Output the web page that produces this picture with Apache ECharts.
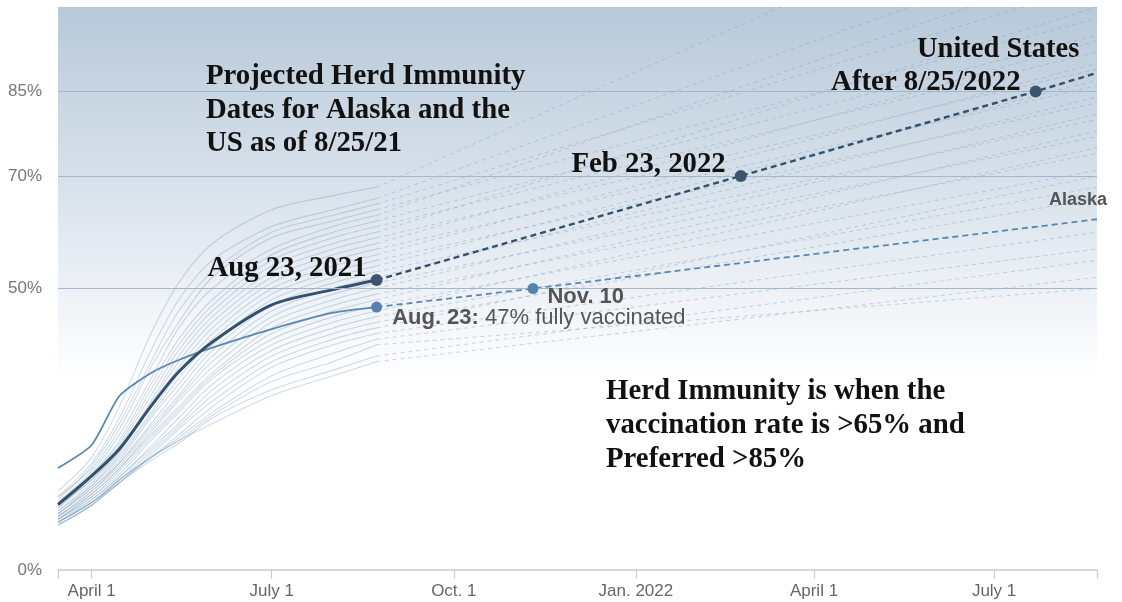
<!DOCTYPE html>
<html>
<head>
<meta charset="utf-8">
<script src="https://cdn.jsdelivr.net/npm/echarts@6/dist/echarts.min.js"></script>
<style>
  html, body { margin: 0; padding: 0; background: #fff; }
  #chart { width: 1122px; height: 602px; }
</style>
</head>
<body>
<div id="chart"></div>
<script>
// dates where the measured (solid) part of every line is sampled
var dateStops = ['2021-03-15', '2021-04-01', '2021-04-15', '2021-05-01', '2021-05-15',
    '2021-06-01', '2021-07-01', '2021-08-01', '2021-08-23'];
var firstDay = '2021-03-15';
var lastDay = '2021-08-23';
var projEnd = '2022-08-22';

// x axis ticks
var tickDates = ['2021-04-01', '2021-07-01', '2021-10-01', '2022-01-01', '2022-04-01', '2022-07-01'];
var tickLabels = ['April 1', 'July 1', 'Oct. 1', 'Jan. 2022', 'April 1', 'July 1'];
var yTicks = [0, 50, 70, 85];
var gridLevels = [50, 70, 85];

// United States, % fully vaccinated
var usSolid = [11.6, 16.7, 21.5, 29.1, 35.2, 40.5, 47.1, 49.8, 51.5];
var usProj = [['2021-08-23', 51.5], ['2022-02-23', 70], ['2022-07-22', 85], ['2022-08-22', 88.3]];
var usMarks = [['2021-08-23', 51.5], ['2022-02-23', 70], ['2022-07-22', 85]];

// Alaska
var akSolid = [18.1, 22.2, 30.9, 35.0, 37.3, 39.5, 42.8, 45.7, 46.7];
var akProj = [['2021-08-23', 46.7], ['2021-11-10', 50], ['2022-08-22', 62.3]];
var akMarks = [['2021-08-23', 46.7], ['2021-11-10', 50]];

// other states (faint lines), values at dateStops
var stateSolid = [
    [14, 20, 29, 42, 51, 58, 64, 66.5, 68],
    [13, 19, 27, 39, 48, 55, 61, 64, 66],
    [12.5, 18.5, 26, 37, 46, 53, 60, 63, 65],
    [13, 18, 25, 36, 44, 52, 59, 62, 64],
    [12, 17.5, 24, 34, 43, 50, 57, 61, 63],
    [11.5, 17, 23, 33, 41, 48, 56, 60, 62],
    [12, 17, 22.5, 32, 40, 47, 55, 59, 61],
    [11, 16.5, 22, 31, 39, 46, 54, 58, 60],
    [11.5, 16, 21.5, 30, 38, 45, 53, 57, 59],
    [10.5, 15.5, 21, 29.5, 37, 44, 52, 56, 58],
    [11, 16, 21, 29, 36, 43, 51, 55, 57],
    [10, 15, 20.5, 28, 35, 42, 50, 54, 56],
    [10.5, 15, 20, 27.5, 34, 41, 49, 53, 55],
    [10, 14.5, 19.5, 27, 33, 40, 48, 52, 54],
    [9.5, 14, 19, 26, 32, 39, 47, 51, 53],
    [10, 14.5, 19, 25.5, 31, 38, 46, 50, 52],
    [9.5, 14, 18.5, 25, 30.5, 37, 45, 49, 51],
    [9, 13.5, 18, 24.5, 30, 36, 44, 48, 50],
    [9.5, 13.5, 18, 24, 29, 35, 43, 47, 49],
    [9, 13, 17.5, 23.5, 28.5, 34.5, 42, 46, 48],
    [9, 13, 17, 23, 28, 34, 41, 45, 47],
    [8.5, 12.5, 16.5, 22, 27, 33, 40, 44, 46],
    [9, 12.5, 16.5, 21.5, 26, 32, 39, 43, 45],
    [8.5, 12, 16, 21, 25.5, 31, 38, 42, 44],
    [8.5, 12, 15.5, 20.5, 25, 30, 37, 41, 43],
    [8, 11.5, 15.5, 20, 24, 29, 36, 40, 42],
    [8.5, 12, 16, 20, 23.5, 28, 34.5, 38.5, 41],
    [8, 11.5, 16, 20, 23, 27.5, 33.5, 37, 40],
    [8, 11.5, 15.5, 19.5, 22.5, 27, 32, 35.5, 38],
    [8.5, 12, 16, 20, 23, 26, 31, 34.5, 37]
];
// projected value of each state at projEnd
var stateEnd = [125, 112, 104, 98, 108, 95, 92, 100, 89, 94, 86, 90, 83, 87, 80,
    84, 77, 81, 74, 78, 71, 75, 68, 66, 70, 60, 57, 50, 55, 52];

var SERIF = '"Liberation Serif", "Times New Roman", serif';
var SANS = '"Liberation Sans", Arial, Helvetica, sans-serif';

function ts(s) {
    var p = s.split('-');
    return Date.UTC(+p[0], +p[1] - 1, +p[2]);
}

function solidPairs(vals) {
    return vals.map(function (v, i) { return [ts(dateStops[i]), v]; });
}

function datedPairs(list) {
    return list.map(function (d) { return [ts(d[0]), d[1]]; });
}

var series = [];

// horizontal reference lines
series.push({
    type: 'line',
    data: [],
    silent: true,
    z: 1,
    markLine: {
        silent: true,
        symbol: 'none',
        label: { show: false },
        lineStyle: { color: '#a3b7cb', width: 1.2, type: 'solid' },
        data: gridLevels.map(function (v) { return { yAxis: v }; })
    }
});

stateSolid.forEach(function (vals, i) {
    series.push({
        type: 'line',
        data: solidPairs(vals),
        symbol: 'none',
        smooth: 0.3,
        silent: true,
        z: 2,
        lineStyle: { color: 'rgba(110,145,185,0.33)', width: 1.1 }
    });
    series.push({
        type: 'line',
        data: [[ts(lastDay), vals[vals.length - 1]], [ts(projEnd), stateEnd[i]]],
        symbol: 'none',
        silent: true,
        z: 2,
        lineStyle: { color: 'rgba(125,155,190,0.4)', width: 1, type: [4, 4] }
    });
});

// Alaska
series.push({
    type: 'line', data: solidPairs(akSolid), symbol: 'none', smooth: 0.2, silent: true, z: 3,
    lineStyle: { color: '#5b86b0', width: 1.8 }
});
series.push({
    type: 'line', data: datedPairs(akProj), symbol: 'none', silent: true, z: 3,
    lineStyle: { color: '#5b86b0', width: 1.8, type: [6, 4] }
});

// United States
series.push({
    type: 'line', data: solidPairs(usSolid), symbol: 'none', smooth: 0.3, silent: true, z: 4,
    lineStyle: { color: '#34506c', width: 3 }
});
series.push({
    type: 'line', data: datedPairs(usProj), symbol: 'none', silent: true, z: 4,
    lineStyle: { color: '#34506c', width: 2.4, type: [6, 4] }
});

var serifLabel = {
    show: true, position: 'left', fontFamily: SERIF, fontWeight: 'bold',
    fontSize: 28.8, color: '#111'
};
var usPts = datedPairs(usMarks);
var akPts = datedPairs(akMarks);

series.push({
    type: 'scatter', z: 6, silent: true, symbolSize: 12,
    itemStyle: { color: '#3b5571', opacity: 1 },
    data: [
        { value: usPts[0], label: Object.assign({}, serifLabel, { formatter: 'Aug 23, 2021', distance: 4, offset: [0, -12] }) },
        { value: usPts[1], label: Object.assign({}, serifLabel, { formatter: 'Feb 23, 2022', distance: 9, offset: [0, -11] }) },
        { value: usPts[2], label: Object.assign({}, serifLabel, { formatter: 'After 8/25/2022', distance: 9, offset: [0, -9] }) }
    ]
});

series.push({
    type: 'scatter', z: 6, silent: true, symbolSize: 11,
    itemStyle: { color: '#5782ad', opacity: 1 },
    data: [
        {
            value: akPts[0],
            label: {
                show: true, position: 'right', distance: 10, offset: [0, 11],
                fontFamily: SANS, fontSize: 22, color: '#555',
                formatter: '{b|Aug. 23:} 47% fully vaccinated',
                rich: { b: { fontFamily: SANS, fontSize: 22, fontWeight: 'bold', color: '#555' } }
            }
        },
        {
            value: akPts[1],
            label: {
                show: true, position: 'right', distance: 9, offset: [0, 8],
                fontFamily: SANS, fontSize: 22, fontWeight: 'bold', color: '#555',
                formatter: 'Nov. 10'
            }
        }
    ]
});

var tickLabelMap = {};
tickDates.forEach(function (d, i) { tickLabelMap[ts(d)] = tickLabels[i]; });

var chart = echarts.init(document.getElementById('chart'), null, { renderer: 'canvas' });

chart.setOption({
    animation: false,
    grid: {
        left: 58, right: 25, top: 7, bottom: 32,
        show: true, borderWidth: 0,
        backgroundColor: new echarts.graphic.LinearGradient(0, 0, 0, 1, [
            { offset: 0, color: '#b9c9d9' },
            { offset: 0.3, color: '#d6e0ea' },
            { offset: 0.5, color: '#edf1f6' },
            { offset: 0.66, color: '#ffffff' },
            { offset: 1, color: '#ffffff' }
        ])
    },
    xAxis: {
        type: 'value',
        min: ts(firstDay),
        max: ts(projEnd),
        axisLine: { lineStyle: { color: '#cccccc', width: 1.5 } },
        axisTick: {
            show: true, length: 9,
            lineStyle: { color: '#cccccc', width: 1.2 },
            customValues: [ts(firstDay)].concat(tickDates.map(ts), [ts(projEnd)])
        },
        axisLabel: {
            customValues: tickDates.map(ts),
            margin: 13,
            fontFamily: SANS, fontSize: 17, color: '#666',
            formatter: function (v) { return tickLabelMap[v] || ''; }
        },
        splitLine: { show: false }
    },
    yAxis: {
        type: 'value',
        min: 0, max: 100,
        axisLine: { show: false },
        axisTick: { show: false },
        splitLine: { show: false },
        axisLabel: {
            customValues: yTicks,
            margin: 16,
            fontFamily: SANS, fontSize: 17, color: '#777',
            formatter: '{value}%'
        }
    },
    graphic: [
        {
            type: 'text', left: 206, top: 60, z: 10,
            style: {
                text: 'Projected Herd Immunity\nDates for Alaska and the\nUS as of 8/25/21',
                fontFamily: SERIF, fontWeight: 'bold', fontSize: 28.8, lineHeight: 33.5, fill: '#111'
            }
        },
        {
            type: 'text', left: 606, top: 375, z: 10,
            style: {
                text: 'Herd Immunity is when the\nvaccination rate is >65% and\nPreferred >85%',
                fontFamily: SERIF, fontWeight: 'bold', fontSize: 28.8, lineHeight: 34, fill: '#111'
            }
        },
        {
            type: 'text', left: 917, top: 33, z: 10,
            style: {
                text: 'United States',
                fontFamily: SERIF, fontWeight: 'bold', fontSize: 28.5, lineHeight: 34, fill: '#111'
            }
        },
        {
            type: 'text', left: 1049, top: 190, z: 10,
            style: {
                text: 'Alaska',
                fontFamily: SANS, fontWeight: 'bold', fontSize: 18, lineHeight: 20, fill: '#555'
            }
        }
    ],
    series: series
});
</script>
</body>
</html>
